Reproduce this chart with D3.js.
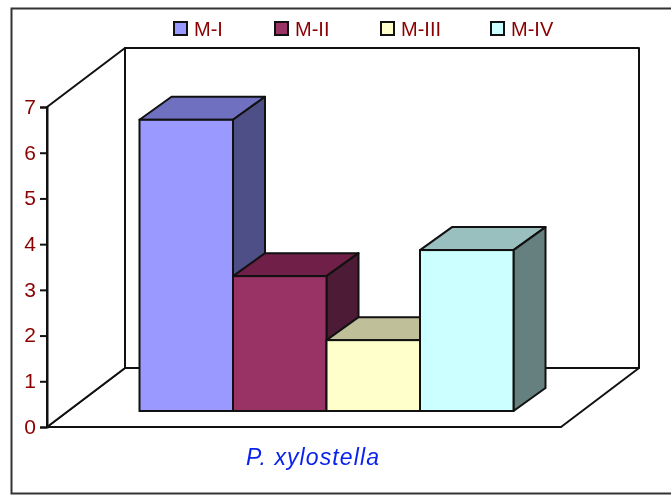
<!DOCTYPE html>
<html><head><meta charset="utf-8">
<script src="https://cdn.jsdelivr.net/npm/d3@7"></script>
<style>html,body{margin:0;padding:0;background:#fff}svg{display:block;filter:blur(.6px)}text{font-family:"Liberation Sans",Arial,sans-serif}</style>
</head><body><svg id="c" width="671" height="497"></svg>
<script>
const categories=["M-I","M-II","M-III","M-IV"];
const values=[6.37,2.95,1.55,3.52];
const fills=["#9999ff","#993366","#ffffcc","#ccffff"];
const tops=["#7070c0","#701f48","#bfbf99","#99c0bf"];
const sides=["#4f4f88","#4d1b36","#808066","#668080"];
const ticks=[0,1,2,3,4,5,6,7];
const axisLabel="P. xylostella";
const ink="#111";

const svg=d3.select("#c");
const y=d3.scaleLinear().domain([0,7]).range([427,107]);
const barBase=d3.scaleLinear().domain([0,7]).range([411,91]);
const x=d3.scaleBand().domain(categories).range([139.5,513.5]);
const wall={dx:78,dy:-59},bar={dx:32,dy:-23};
const poly=(pts,fill,sw=2)=>svg.append("path").attr("d",d3.line()(pts)+"Z").attr("fill",fill).attr("stroke",ink).attr("stroke-width",sw).attr("stroke-linejoin","round");

svg.append("rect").attr("x",11.5).attr("y",8.5).attr("width",680).attr("height",485).attr("fill","#fff").attr("stroke","#333").attr("stroke-width",2);

const x0=47,x1=561;
poly([[x0+wall.dx,y(7)+wall.dy],[x1+wall.dx,y(7)+wall.dy],[x1+wall.dx,y(0)+wall.dy],[x0+wall.dx,y(0)+wall.dy]],"#fff");
poly([[x0,y(0)],[x0+wall.dx,y(0)+wall.dy],[x1+wall.dx,y(0)+wall.dy],[x1,y(0)]],"#fff");
poly([[x0,y(0)],[x0,y(7)],[x0+wall.dx,y(7)+wall.dy],[x0+wall.dx,y(0)+wall.dy]],"#fff");

const ax=svg.append("g").attr("transform",`translate(${x0},0)`).call(d3.axisLeft(y).tickValues(ticks).tickSize(7).tickPadding(4).tickFormat(d3.format("d")));
ax.select(".domain").attr("stroke",ink).attr("stroke-width",2);
ax.selectAll("line").attr("stroke",ink).attr("stroke-width",2);
ax.selectAll("text").attr("fill","#8b0000").attr("font-size",21).attr("font-family","Liberation Sans").attr("dy","0.3em");

categories.forEach((c,i)=>{
  const l=x(c),r=l+x.bandwidth(),t=barBase(values[i]),b=barBase(0);
  poly([[l,t],[l+bar.dx,t+bar.dy],[r+bar.dx,t+bar.dy],[r,t]],tops[i]);
  poly([[r,t],[r+bar.dx,t+bar.dy],[r+bar.dx,b+bar.dy],[r,b]],sides[i]);
});
categories.forEach((c,i)=>{
  const l=x(c),t=barBase(values[i]),b=barBase(0);
  svg.append("rect").attr("x",l).attr("y",t).attr("width",x.bandwidth()).attr("height",b-t).attr("fill",fills[i]).attr("stroke",ink).attr("stroke-width",2);
});

const legendX=[174,275,381,491];
categories.forEach((c,i)=>{
  svg.append("rect").attr("x",legendX[i]).attr("y",22).attr("width",13).attr("height",13).attr("fill",fills[i]).attr("stroke",ink).attr("stroke-width",2);
  svg.append("text").attr("x",legendX[i]+20).attr("y",36).attr("fill","#8b0000").attr("font-size",20).text(c);
});
svg.append("text").attr("x",313).attr("y",465).attr("text-anchor","middle").attr("fill","#0a22ee").attr("font-size",23).attr("letter-spacing",1.1).attr("font-style","italic").text(axisLabel);
</script></body></html>
